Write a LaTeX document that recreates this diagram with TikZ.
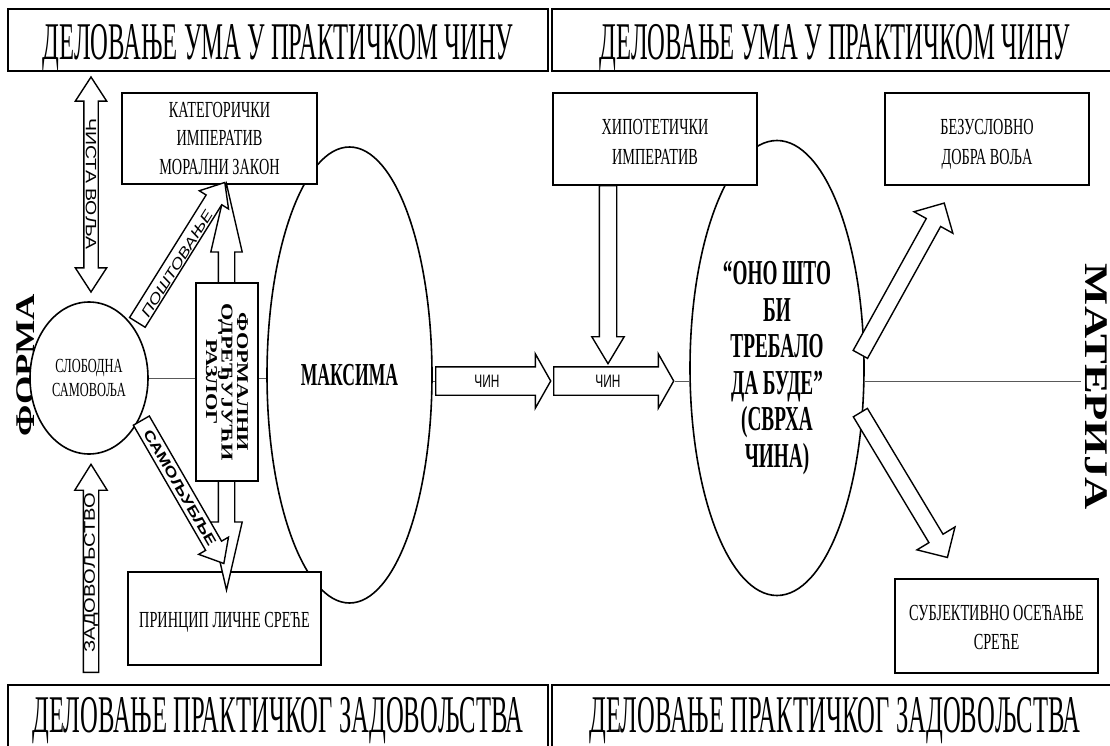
\documentclass[tikz,border=0pt]{standalone}
\usepackage{fontspec}
\setmainfont{Liberation Serif}
\newfontfamily\headfont[FakeStretch=0.465]{Liberation Serif}
\newfontfamily\boxfont[FakeStretch=0.62]{Liberation Serif}
\newfontfamily\maxfont[FakeStretch=0.55]{Liberation Serif}
\newfontfamily\sidefont[FakeStretch=1.35]{Liberation Serif}
\newfontfamily\labelfont[FakeStretch=1.3]{Liberation Sans}
\newfontfamily\chinfont[FakeStretch=0.66]{Liberation Sans}
\usetikzlibrary{shapes.geometric,shapes.arrows}

\tikzset{
  header/.style={draw, line width=2.2pt, inner sep=0pt, minimum height=62pt,
    font=\headfont\fontsize{53}{60}\selectfont},
  card/.style={draw, fill=white, line width=1.8pt, inner sep=0pt, align=center,
    text depth=0pt, font=\boxfont\fontsize{23}{28.5}\selectfont},
  oval/.style={ellipse, draw, fill=white, line width=1.6pt, inner sep=0pt, align=center},
  fat/.style={single arrow, draw, fill=white, line width=1.4pt, inner sep=0pt, anchor=tail},
  fatboth/.style={double arrow, draw, fill=white, line width=1.4pt, inner sep=0pt},
  axisline/.style={draw=black!65, line width=0.9pt},
  tag/.style={inner sep=0pt, font=\labelfont\fontsize{15}{16}\selectfont},
}

\begin{document}
\begin{tikzpicture}[x=1pt, y=-1pt]
\useasboundingbox (0,0) rectangle (1110,746);

% headers
\node[header, minimum width=540pt, text height=42pt, text depth=2pt] (ul) at (278,40) {ДЕЛОВАЊЕ УМА У ПРАКТИЧКОМ ЧИНУ};
\node[header, minimum width=566pt, text height=42pt, text depth=2pt] (ur) at (835,40) {ДЕЛОВАЊЕ УМА У ПРАКТИЧКОМ ЧИНУ};
\node[header, minimum width=540pt, minimum height=64pt, text height=34pt, text depth=4pt] (dl) at (278,717) {ДЕЛОВАЊЕ ПРАКТИЧКОГ ЗАДОВОЉСТВА};
\node[header, minimum width=566pt, minimum height=64pt, text height=34pt, text depth=4pt] (dr) at (835,717) {ДЕЛОВАЊЕ ПРАКТИЧКОГ ЗАДОВОЉСТВА};

\node[rotate=90, font=\sidefont\bfseries\fontsize{27}{30}\selectfont] (forma) at (26,365) {ФОРМА};
\node[rotate=-90, font=\sidefont\bfseries\fontsize{33}{36}\selectfont] (materija) at (1096,387) {МАТЕРИЈА};

% ovals
\node[oval, minimum width=118pt, minimum height=152pt, font=\boxfont\fontsize{20}{24}\selectfont] (slob) at (89,378) {СЛОБОДНА\\САМОВОЉА};
\node[oval, minimum width=165pt, minimum height=456pt, font=\maxfont\bfseries\fontsize{32}{36}\selectfont] (maks) at (349.5,375) {МАКСИМА};
\node[oval, minimum width=174pt, minimum height=455pt, font=\maxfont\bfseries\fontsize{35}{36.5}\selectfont] (ovo) at (777,368) {“ОНО ШТО\\БИ\\ТРЕБАЛО\\ДА БУДЕ”\\(СВРХА\\ЧИНА)};

% act
\node[fat, minimum height=115pt, single arrow head extend=13pt, single arrow tip angle=121, text height=13.5pt, text depth=13.5pt] (chin1) at (435,381) {};
\node[fat, minimum height=120pt, single arrow head extend=13pt, single arrow tip angle=121, text height=13.5pt, text depth=13.5pt] (chin2) at (553,381) {};
\node[tag, font=\chinfont\fontsize{18}{20}\selectfont] (act1) at (487,381) {ЧИН};
\node[tag, font=\chinfont\fontsize{18}{20}\selectfont] (act2) at (608,381) {ЧИН};

\draw[axisline] (slob.east) -- (slob.east -| maks.west);
\draw[axisline] (maks.east |- chin1.tail) -- (chin1.tail);
\draw[axisline] (chin2.tip) -- (chin2.tip -| ovo.west);
\draw[axisline] (ovo.east |- chin2.tip) -- (chin2.tip -| materija.south);

% boxes
\node[card, minimum width=195pt, minimum height=91pt, text height=72pt] (kat) at (219.5,138.5) {КАТЕГОРИЧКИ\\ИМПЕРАТИВ\\МОРАЛНИ ЗАКОН};
\node[card, minimum width=204pt, minimum height=92pt, text height=51pt, font=\boxfont\fontsize{23}{30}\selectfont] (hip) at (655,139) {ХИПОТЕТИЧКИ\\ИМПЕРАТИВ};
\node[card, minimum width=204pt, minimum height=92pt, text height=51pt, font=\boxfont\fontsize{23}{30}\selectfont] (bez) at (987,139) {БЕЗУСЛОВНО\\ДОБРА ВОЉА};
\node[card, minimum width=203pt, minimum height=94pt, text height=47pt, font=\boxfont\fontsize{23}{29}\selectfont] (sub) at (996.5,626) {СУБЈЕКТИВНО ОСЕЋАЊЕ\\СРЕЋЕ};
\node[card, minimum width=193pt, minimum height=93pt, text height=18pt] (pri) at (224.5,618.5) {ПРИНЦИП ЛИЧНЕ СРЕЋЕ};

% formal ground
\node[fatboth, rotate=90, minimum height=406pt, double arrow head extend=7.5pt, double arrow tip angle=26, text height=7.5pt, text depth=7.5pt] (formarrow) at (226.5,387) {};
\node[draw, fill=white, line width=1.6pt, rotate=-90, minimum width=198pt, minimum height=62pt, inner sep=0pt, align=center, font=\sidefont\bfseries\fontsize{16.5}{15.5}\selectfont] (formal) at (227,382) {ФОРМАЛНИ\\ОДРЕЂУЈУЋИ\\РАЗЛОГ};

% will and pleasure
\node[fatboth, rotate=-90, minimum height=215pt, double arrow head extend=8.5pt, double arrow tip angle=66, text height=6.5pt, text depth=6.5pt] (volja) at (91,184.5) {};
\node[fat, rotate=90, minimum height=208pt, single arrow head extend=8.5pt, single arrow tip angle=64, text height=7pt, text depth=7pt] (zad) at (91,673) {};
\node[fat, rotate=58, minimum height=165pt, single arrow head extend=8pt, single arrow tip angle=80, text height=8.5pt, text depth=8.5pt] (post) at (137,323) {};
\node[fat, rotate=-60, minimum height=165pt, single arrow head extend=8pt, single arrow tip angle=80, text height=8.5pt, text depth=8.5pt] (samo) at (141,420) {};
\node[tag, rotate=-90] (voljatxt) at (91,184) {ЧИСТА ВОЉА};
\node[tag, rotate=90, font=\labelfont\fontsize{15.5}{16}\selectfont] (zadtxt) at (91,573) {ЗАДОВОЉСТВО};
\node[tag, rotate=58, font=\labelfont\itshape\fontsize{14}{16}\selectfont] (posttxt) at (177,264) {ПОШТОВАЊЕ};
\node[tag, rotate=-60, font=\labelfont\bfseries\fontsize{14}{16}\selectfont] (samotxt) at (180,488) {САМОЉУБЉЕ};
\node[fat, rotate=-90, minimum height=178pt, single arrow head extend=7.5pt, single arrow tip angle=62, text height=8pt, text depth=8pt] (hipdown) at (608,185) {};

% ends
\node[fat, rotate=61, minimum height=173pt, single arrow head extend=14pt, single arrow tip angle=90, text height=7.5pt, text depth=7.5pt] (up) at (860,355) {};
\node[fat, rotate=-59, minimum height=169pt, single arrow head extend=14pt, single arrow tip angle=90, text height=7.5pt, text depth=7.5pt] (down) at (860,412) {};

\end{tikzpicture}
\end{document}
